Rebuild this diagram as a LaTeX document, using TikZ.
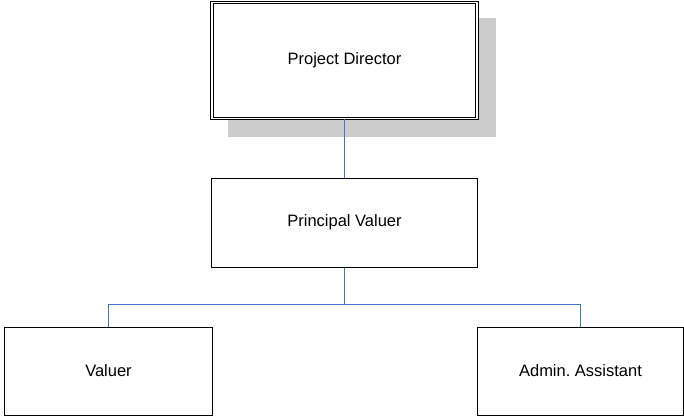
\documentclass[tikz,border=0pt]{standalone}
\usepackage{fontspec}
\setmainfont{Liberation Sans}
\definecolor{linkblue}{RGB}{70,114,196}
\definecolor{shadowgray}{RGB}{204,204,204}
\begin{document}
\begin{tikzpicture}[x=1pt,y=-1pt,
    font=\fontsize{16.5}{20}\selectfont,
    box/.style={draw,line width=1pt,fill=white,inner sep=0pt},
    topbox/.style={draw,double,double distance=1.6pt,line width=0.9pt,fill=white,inner sep=0pt},
    link/.style={draw=linkblue,line width=1pt}]
    \useasboundingbox (0,0) rectangle (684,416);
    % tiefgestellter Schatten
    \fill[shadowgray] (228,18) rectangle (496,137);
    \node[topbox,minimum width=265pt,minimum height=116pt] (pd) at (344.5,60.5) {Project Director};
    \node[box,minimum width=266pt,minimum height=89pt] (pv) at (344.5,222.5) {Principal Valuer};
    \node[box,minimum width=208pt,minimum height=88pt] (val) at (108.5,371) {Valuer};
    \node[box,minimum width=206pt,minimum height=88pt] (adm) at (580.5,371) {Admin.\ Assistant};
    \coordinate (split) at (344.5,304.5);
    % Verbindungen
    \draw[link] (pd.south) -- (pv.north);
    \draw[link] (pv.south) -- (split);
    \draw[link] (val.north) |- (split) -| (adm.north);
\end{tikzpicture}
\end{document}
